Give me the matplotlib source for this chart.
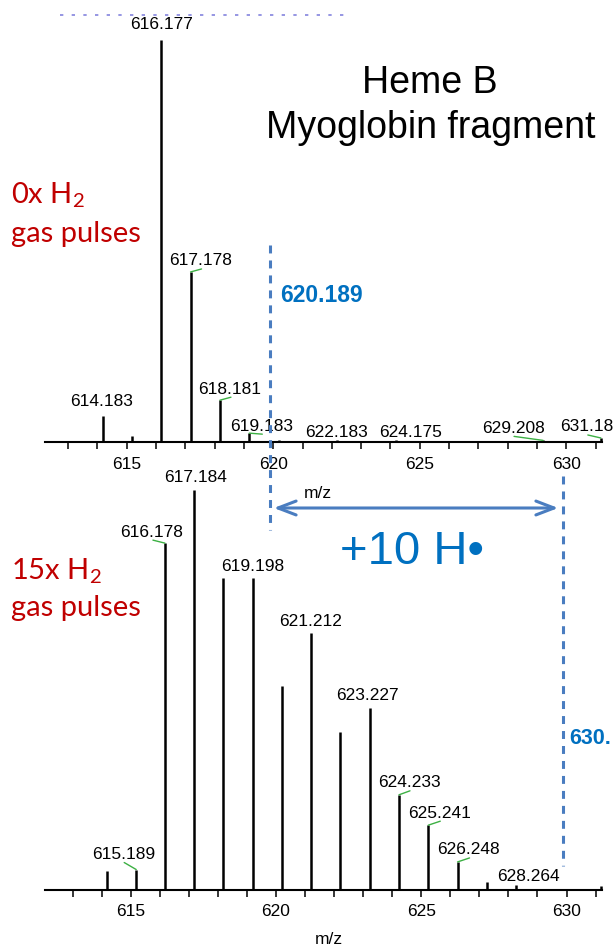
import matplotlib
matplotlib.use("Agg")
import matplotlib.pyplot as plt
from matplotlib.ticker import MultipleLocator
from matplotlib.lines import Line2D
from matplotlib.patches import FancyArrowPatch

plt.rcParams['font.family'] = ['Liberation Sans', 'DejaVu Sans']
plt.rcParams['mathtext.fontset'] = 'custom'
plt.rcParams['mathtext.rm'] = 'Lato'
plt.rcParams['mathtext.it'] = 'Lato'

# ---------------- data ----------------
# Top spectrum: 0x H2 gas pulses (relative intensity %)
top_mz = [614.183, 615.18, 616.177, 617.178, 618.181, 619.183, 620.19,
          622.183, 624.175, 629.208, 631.18]
top_int = [6.5, 1.5, 100.0, 42.3, 10.4, 2.2, 0.5,
           0.6, 0.6, 0.4, 1.0]
top_labels = ["614.183", "", "616.177", "617.178", "618.181", "619.183", "",
              "622.183", "624.175", "629.208", "631.18"]

# Bottom spectrum: 15x H2 gas pulses
bot_mz = [614.18, 615.189, 616.178, 617.184, 618.19, 619.198, 620.205,
          621.212, 622.22, 623.227, 624.233, 625.241, 626.248, 627.26,
          628.264, 631.2]
bot_int = [4.6, 5.0, 86.7, 100.0, 78.0, 78.0, 50.9,
           64.1, 39.4, 45.4, 23.7, 16.1, 6.9, 1.9,
           1.1, 1.0]
bot_labels = ["", "615.189", "616.178", "617.184", "", "619.198", "",
              "621.212", "", "623.227", "624.233", "625.241", "626.248", "",
              "628.264", ""]

xtick_major = [615, 620, 625, 630]
mono_mass = "620.189"
shift_mass = "630."
shift_text = "+10 H•"

# ---------------- layout / style ----------------
W, H = 613, 949
fig = plt.figure(figsize=(W / 100, H / 100), dpi=100)

def fx(px):
    return px / W

def fy(py):
    return 1 - py / H

# label offsets in pixels (dx, dy) relative to the peak top, and leader flag
top_off = {"614.183": (-1, 14, False), "616.177": (0, 15, False),
           "617.178": (10, 11, True), "618.181": (10, 11, True),
           "619.183": (12, 7, True), "622.183": (-1, 7, False),
           "624.175": (15, 7, False), "629.208": (-30, 12, True),
           "631.18": (-14, 11, True)}
bot_off = {"615.189": (-13, 15, True), "616.178": (-13, 11, True),
           "617.184": (1, 12, False), "619.198": (0, 11, False),
           "621.212": (-1, 12, False), "623.227": (-2, 13, False),
           "624.233": (10, 12, True), "625.241": (11, 12, True),
           "626.248": (11, 12, True), "628.264": (12, 9, False)}

GREEN = '#3cb043'
FS = 12.5


def setup(ax, xlim):
    ax.set_xlim(*xlim)
    ax.set_ylim(0, 100)
    for s in ['left', 'right', 'top']:
        ax.spines[s].set_visible(False)
    ax.spines['bottom'].set_linewidth(1.5)
    ax.set_yticks([])
    ax.xaxis.set_major_locator(MultipleLocator(5))
    ax.xaxis.set_minor_locator(MultipleLocator(1))
    ax.tick_params(axis='x', which='both', direction='out', length=5,
                   width=1.1, labelsize=FS, pad=5.5)
    ax.set_xticks(xtick_major)
    ax.set_xticklabels([str(t) for t in xtick_major])
    ax.patch.set_alpha(0)


def draw(ax, mz, inten, labels, offs):
    ax.vlines(mz, 0, inten, color='black', lw=1.8, clip_on=False)
    for m, h, lab in zip(mz, inten, labels):
        if not lab:
            continue
        dx, dy, lead = offs[lab]
        ax.annotate(lab, xy=(m, h), xytext=(dx, dy), textcoords='offset pixels',
                    ha='center', va='center', fontsize=FS, annotation_clip=False)
        if lead:
            ax.annotate('', xy=(m, h), xytext=(dx + 1, dy - 8),
                        textcoords='offset pixels', annotation_clip=False,
                        arrowprops=dict(arrowstyle='-', color=GREEN, lw=1.0,
                                        shrinkA=0, shrinkB=0))


ax1 = fig.add_axes([fx(45), fy(442), (602 - 45) / W, 402 / H])
setup(ax1, (612.21, 631.22))
draw(ax1, top_mz, top_int, top_labels, top_off)

ax2 = fig.add_axes([fx(45), fy(889.5), (602 - 45) / W, 399.5 / H])
setup(ax2, (612.05, 631.22))
draw(ax2, bot_mz, bot_int, bot_labels, bot_off)

# axis titles
fig.text(fx(318), fy(493), "m/z", ha='center', va='center', fontsize=FS)
fig.text(fx(329), fy(939), "m/z", ha='center', va='center', fontsize=FS)

# title text
fig.text(fx(430), fy(83), "Heme B", ha='center', va='center', fontsize=27)
fig.text(fx(431), fy(128), "Myoglobin fragment", ha='center', va='center', fontsize=27)

# red condition labels
RED = '#c00000'
fig.text(fx(11), fy(203), r"0x H$_2$", ha='left', va='baseline', fontsize=21,
         color=RED, family='Lato')
fig.text(fx(11), fy(242), "gas pulses", ha='left', va='baseline', fontsize=21,
         color=RED, family='Lato')
fig.text(fx(11), fy(579), r"15x H$_2$", ha='left', va='baseline', fontsize=21,
         color=RED, family='Lato')
fig.text(fx(11), fy(616), "gas pulses", ha='left', va='baseline', fontsize=21,
         color=RED, family='Lato')

# blue annotations
DASH = '#4a7dc0'
BLUE = '#0070c0'
lw_d = 2.2
fig.add_artist(Line2D([fx(270), fx(270)], [fy(245), fy(530)], color=DASH,
                      lw=lw_d, dashes=(2.6, 2.3), transform=fig.transFigure))
fig.add_artist(Line2D([fx(562.5), fx(562.5)], [fy(476), fy(866)], color=DASH,
                      lw=lw_d, dashes=(2.6, 2.3), transform=fig.transFigure))
arr = FancyArrowPatch((fx(271), fy(508)), (fx(561), fy(508)),
                      transform=fig.transFigure,
                      arrowstyle='<->,head_length=13,head_width=5',
                      mutation_scale=1, color=DASH, lw=2.2)
fig.add_artist(arr)

fig.text(fx(280), fy(295), mono_mass, ha='left', va='center', fontsize=16.5,
         fontweight='bold', color=BLUE)
fig.text(fx(569), fy(738), shift_mass, ha='left', va='center', fontsize=15.5,
         fontweight='bold', color=BLUE)
fig.text(fx(340), fy(552), shift_text, ha='left', va='center', fontsize=34,
         color=BLUE)

# faint cropped header remnant at top
fig.add_artist(Line2D([fx(60), fx(349)], [fy(15), fy(15)], color='#5050d0',
                      lw=1.2, dashes=(2, 5), alpha=0.7, transform=fig.transFigure))

fig.savefig("out.png", dpi=100)
